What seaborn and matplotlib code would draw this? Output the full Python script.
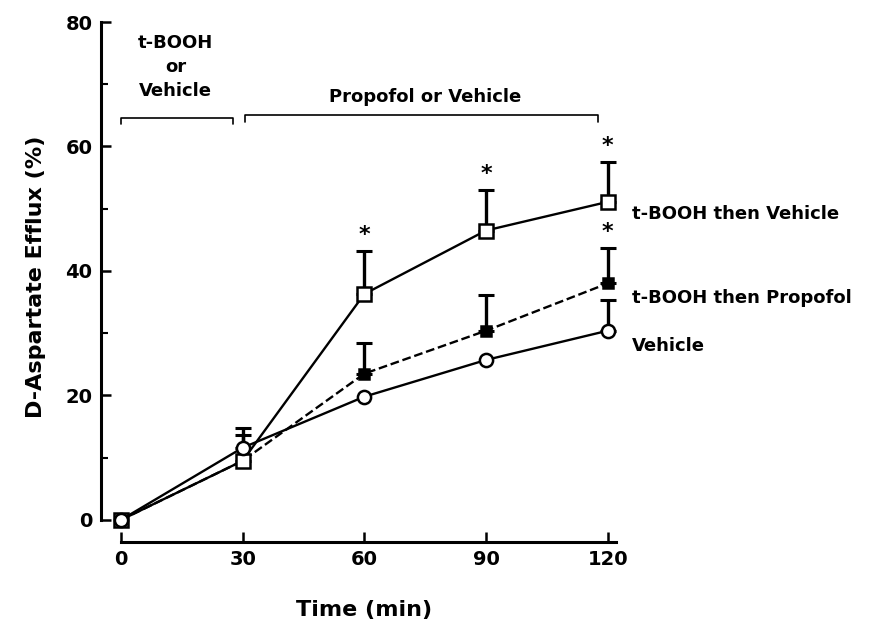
import numpy as np
import pandas as pd
import seaborn as sns
import matplotlib.pyplot as plt
from matplotlib.ticker import MultipleLocator

# time points (min)
times = [0, 30, 60, 90, 120]

# D-aspartate efflux (%) and upward SEM per group
vehicle = [0, 11.6, 19.8, 25.7, 30.4]
vehicle_err = [0, 3.2, 0, 0, 5.0]
tbooh_vehicle = [0, 9.5, 36.3, 46.5, 51.1]
tbooh_vehicle_err = [0, 4.2, 6.9, 6.5, 6.4]
tbooh_propofol = [0, 9.5, 23.5, 30.4, 38.0]
tbooh_propofol_err = [0, 0, 5.0, 5.8, 5.7]

# significance marks: (time, y of star)
stars_x = [60, 90, 120, 120]
stars_y = [45.8, 55.6, 60.1, 46.2]

groups = ['t-BOOH then Vehicle', 't-BOOH then Propofol', 'Vehicle']

df = pd.DataFrame({
    'Time': times * 3,
    'Efflux': tbooh_vehicle + tbooh_propofol + vehicle,
    'Err': tbooh_vehicle_err + tbooh_propofol_err + vehicle_err,
    'Group': [groups[0]] * 5 + [groups[1]] * 5 + [groups[2]] * 5,
})

sns.set_style('ticks')
plt.rcParams['font.family'] = ['DejaVu Sans']
plt.rcParams['font.weight'] = 'bold'
plt.rcParams['text.color'] = 'black'
plt.rcParams['axes.labelcolor'] = 'black'
plt.rcParams['xtick.color'] = 'black'
plt.rcParams['ytick.color'] = 'black'
plt.rcParams['axes.edgecolor'] = 'black'

fig = plt.figure(figsize=(8.77, 6.31), dpi=100)
ax = fig.add_axes([0.1148, 0.1563, 0.6012, 0.8088])

# error bars (upper only)
for g in groups:
    sub = df[df['Group'] == g]
    errs = sub['Err'].values
    mask = errs > 0
    ax.errorbar(sub['Time'].values[mask], sub['Efflux'].values[mask],
                yerr=[np.zeros(mask.sum()), errs[mask]],
                fmt='none', ecolor='black', elinewidth=2.4, capsize=6,
                capthick=2.2, zorder=2)

styles = {
    groups[0]: dict(marker='s', mfc='white', ls='-', ms=9.5, z=4),
    groups[1]: dict(marker='s', mfc='black', ls='--', ms=7.5, z=3),
    groups[2]: dict(marker='o', mfc='white', ls='-', ms=9.5, z=5),
}
for g in groups:
    sub = df[df['Group'] == g]
    st = styles[g]
    sns.lineplot(data=sub, x='Time', y='Efflux', ax=ax, color='black',
                 linewidth=1.7, linestyle=st['ls'], marker=st['marker'],
                 markersize=st['ms'], markerfacecolor=st['mfc'],
                 markeredgecolor='black', markeredgewidth=1.8,
                 zorder=st['z'], clip_on=False)

for sx, sy in zip(stars_x, stars_y):
    ax.text(sx, sy, '*', ha='center', va='center', fontsize=16,
            fontweight='bold')

# group labels at right
label_y = [49.2, 35.6, 27.9]
for g, ly in zip(groups, label_y):
    ax.text(126, ly, g, ha='left', va='center', fontsize=13,
            fontweight='bold', clip_on=False)

# treatment brackets
ax.plot([0, 0, 27.6, 27.6], [63.6, 64.6, 64.6, 63.6], color='black',
        lw=1.2, clip_on=False)
ax.plot([30.5, 30.5, 117.6, 117.6], [64.0, 65.1, 65.1, 64.0],
        color='black', lw=1.2, clip_on=False)
ax.text(13.5, 72.8, 't-BOOH\nor\nVehicle', ha='center', va='center',
        fontsize=13, fontweight='bold', linespacing=1.45)
ax.text(75, 68.0, 'Propofol or Vehicle', ha='center', va='center',
        fontsize=13, fontweight='bold')

ax.set_xlim(-5, 125)
ax.set_ylim(-2, 80)
ax.set_xticks(times)
ax.set_yticks([0, 20, 40, 60, 80])
ax.yaxis.set_minor_locator(MultipleLocator(10))
ax.tick_params(axis='both', which='major', direction='in', length=7,
               width=1.8, labelsize=14, pad=6)
ax.tick_params(axis='y', which='minor', direction='in', length=5, width=1.5)
for lab in ax.get_xticklabels() + ax.get_yticklabels():
    lab.set_fontweight('bold')

sns.despine(ax=ax)
ax.spines['left'].set_bounds(0, 80)
ax.spines['left'].set_linewidth(2.2)
ax.spines['bottom'].set_position(('data', -3.5))
ax.spines['bottom'].set_bounds(0, 122)
ax.spines['bottom'].set_linewidth(2.2)

ax.set_xlabel('Time (min)', fontsize=16, fontweight='bold', labelpad=22)
ax.set_ylabel('D-Aspartate Efflux (%)', fontsize=16, fontweight='bold',
              labelpad=14)
if ax.get_legend():
    ax.get_legend().remove()

fig.savefig('out.png', dpi=100)
